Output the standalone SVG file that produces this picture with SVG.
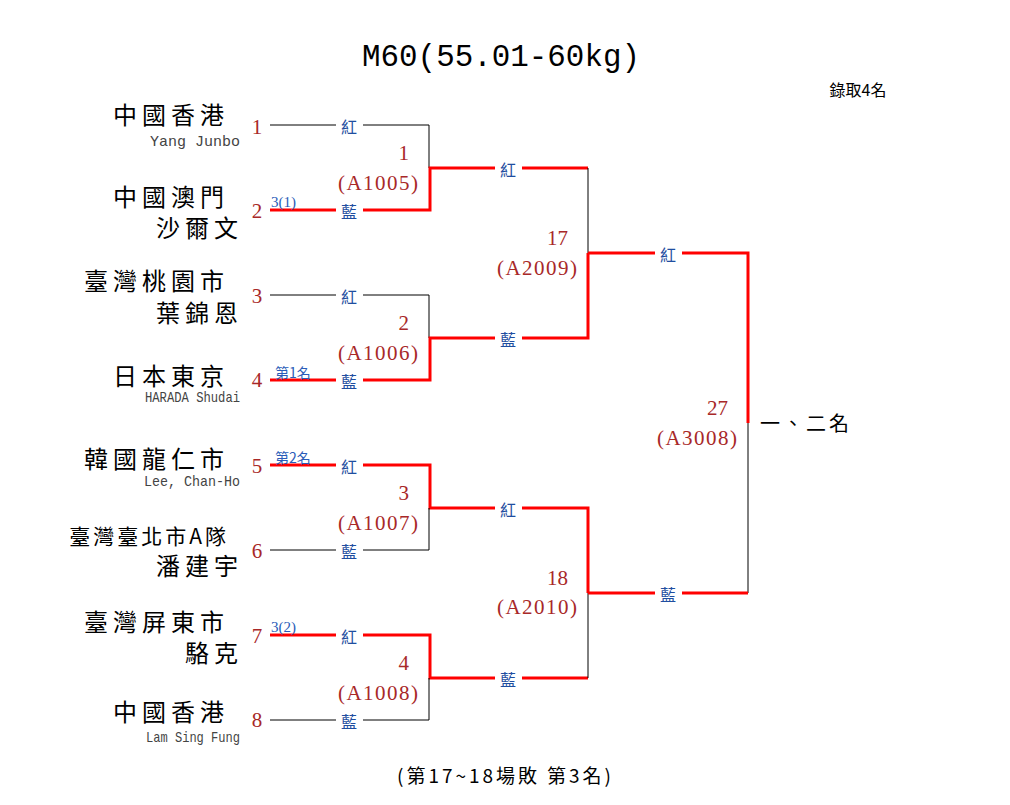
<svg xmlns="http://www.w3.org/2000/svg" width="1010" height="805" viewBox="0 0 1010 805">
<style>
.bg{fill:#fff}
.thin{stroke:#000;stroke-width:1;fill:none}
.red{stroke:#ff0000;stroke-width:3;fill:none}
.team{font-family:"Noto Sans CJK TC","Noto Sans CJK SC",sans-serif;font-size:24px;fill:#000;text-anchor:end;letter-spacing:5px}
.eng{font-family:"Liberation Mono",monospace;font-size:15px;fill:#444;text-anchor:end}
.seed{font-family:"Liberation Serif",serif;font-size:21px;fill:#a82828;text-anchor:middle}
.mnum{font-family:"Liberation Serif",serif;font-size:21px;fill:#a82828;text-anchor:end}
.rb{font-family:"Noto Sans CJK TC","Noto Sans CJK SC",sans-serif;font-size:16px;fill:#1f4ea0;text-anchor:middle}
.note{font-family:"Liberation Serif","Noto Sans CJK TC",serif;font-size:15px;fill:#2a5cb8}
.notec{font-family:"Noto Sans CJK TC","Noto Sans CJK SC",sans-serif;font-size:14px;fill:#2a5cb8}
.title{font-family:"Liberation Mono",monospace;font-size:31px;fill:#000;text-anchor:middle}
.cjk{font-family:"Noto Sans CJK TC","Noto Sans CJK SC",sans-serif;fill:#000}
</style>
<rect class="bg" x="0" y="0" width="1010" height="805"/>
<text class="title" x="501" y="66" textLength="278" lengthAdjust="spacingAndGlyphs">M60(55.01-60kg)</text>
<text class="cjk" x="858" y="96" font-size="16" text-anchor="middle">錄取4名</text>
<g id="connectors">
<path class="thin" d="M270 125H336M363 125H429V168"/>
<path class="red" d="M270 210H336M363 210H430V168H495M522 168H588"/>
<path class="thin" d="M270 295H336M363 295H429V338"/>
<path class="red" d="M270 380H336M363 380H430V338H495M522 338H588V253"/>
<path class="thin" d="M588 168V253"/>
<path class="red" d="M270 465H336M363 465H430V508H495M522 508H588V593"/>
<path class="thin" d="M270 550H336M363 550H429V508"/>
<path class="red" d="M270 635H336M363 635H430V678H495M522 678H588"/>
<path class="thin" d="M270 720H336M363 720H429V678"/>
<path class="thin" d="M588 593V678"/>
<path class="red" d="M588 253H655M682 253H748V423"/>
<path class="thin" d="M748 423V593"/>
<path class="red" d="M588 593H655M682 593H748"/>
</g>
<g id="labels-rb">
<text class="rb" x="349" y="133">紅</text>
<text class="rb" x="349" y="218">藍</text>
<text class="rb" x="349" y="303">紅</text>
<text class="rb" x="349" y="388">藍</text>
<text class="rb" x="349" y="473">紅</text>
<text class="rb" x="349" y="558">藍</text>
<text class="rb" x="349" y="643">紅</text>
<text class="rb" x="349" y="728">藍</text>
<text class="rb" x="508" y="176">紅</text>
<text class="rb" x="508" y="346">藍</text>
<text class="rb" x="508" y="516">紅</text>
<text class="rb" x="508" y="686">藍</text>
<text class="rb" x="668" y="261">紅</text>
<text class="rb" x="668" y="601">藍</text>
</g>
<g id="matches">
<text class="mnum" x="409" y="160">1</text>
<text class="mnum" x="418" y="190" textLength="80">(A1005)</text>
<text class="mnum" x="409" y="330">2</text>
<text class="mnum" x="418" y="360" textLength="80">(A1006)</text>
<text class="mnum" x="409" y="500">3</text>
<text class="mnum" x="418" y="530" textLength="80">(A1007)</text>
<text class="mnum" x="409" y="670">4</text>
<text class="mnum" x="418" y="700" textLength="80">(A1008)</text>
<text class="mnum" x="568" y="245">17</text>
<text class="mnum" x="577" y="275" textLength="80">(A2009)</text>
<text class="mnum" x="568" y="585">18</text>
<text class="mnum" x="577" y="614" textLength="80">(A2010)</text>
<text class="mnum" x="728" y="415">27</text>
<text class="mnum" x="737" y="445" textLength="80">(A3008)</text>
</g>
<g id="node-1">
<text class="team" x="229" y="124">中國香港</text>
<text class="eng" x="240" y="146">Yang Junbo</text>
<text class="seed" x="257" y="134">1</text>
</g>
<g id="node-2">
<text class="team" x="229" y="206">中國澳門</text>
<text class="team" x="243" y="237">沙爾文</text>
<text class="seed" x="257" y="218">2</text>
<text class="note" x="271" y="207">3(1)</text>
</g>
<g id="node-3">
<text class="team" x="229" y="290">臺灣桃園市</text>
<text class="team" x="243" y="322">葉錦恩</text>
<text class="seed" x="257" y="303">3</text>
</g>
<g id="node-4">
<text class="team" x="229" y="385">日本東京</text>
<text class="eng" x="240" y="402" font-size="13" textLength="95" lengthAdjust="spacingAndGlyphs">HARADA Shudai</text>
<text class="seed" x="257" y="387">4</text>
<text class="notec" x="275" y="378">第1名</text>
</g>
<g id="node-5">
<text class="team" x="229" y="468">韓國龍仁市</text>
<text class="eng" x="240" y="486" textLength="96" lengthAdjust="spacingAndGlyphs">Lee, Chan-Ho</text>
<text class="seed" x="257" y="473">5</text>
<text class="notec" x="275" y="463">第2名</text>
</g>
<g id="node-6">
<text class="team" x="229" y="544" style="font-size:21px;letter-spacing:3px">臺灣臺北市A隊</text>
<text class="team" x="243" y="575">潘建宇</text>
<text class="seed" x="257" y="558">6</text>
</g>
<g id="node-7">
<text class="team" x="229" y="631">臺灣屏東市</text>
<text class="team" x="243" y="662">駱克</text>
<text class="seed" x="257" y="643">7</text>
<text class="note" x="271" y="632">3(2)</text>
</g>
<g id="node-8">
<text class="team" x="229" y="721">中國香港</text>
<text class="eng" x="240" y="742" font-size="13" textLength="94" lengthAdjust="spacingAndGlyphs">Lam Sing Fung</text>
<text class="seed" x="257" y="727">8</text>
</g>
<text class="cjk" x="760" y="431" font-size="20" letter-spacing="3">一、二名</text>
<text class="cjk" x="504" y="783" font-size="19" text-anchor="middle" textLength="214" lengthAdjust="spacing">(第17~18場敗 第3名)</text>
</svg>
